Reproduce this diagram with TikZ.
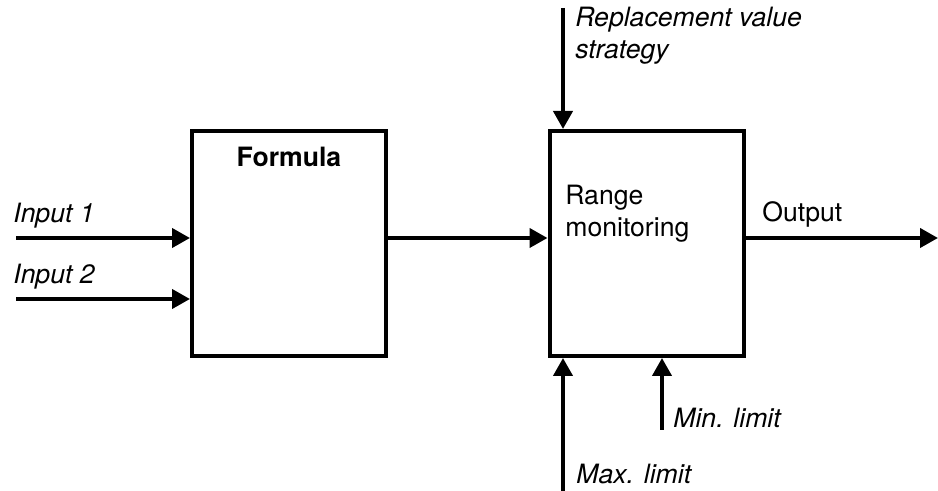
\documentclass[tikz,border=0pt]{standalone}
\usepackage{fontspec}
\setmainfont{TeX Gyre Heros}
\usetikzlibrary{arrows.meta, positioning}

\begin{document}
\begin{tikzpicture}[
  x=0.5pt, y=-0.5pt,
  >={Triangle[length=9pt, width=9.5pt]},
  block/.style={draw, line width=2pt, minimum width=97pt, minimum height=112.5pt, inner sep=0pt},
  arrow/.style={->, line width=2pt},
  txt/.style={font=\fontsize{13.3}{16}\selectfont, inner sep=0pt, align=left},
  sig/.style={font=\fontsize{13.3}{16}\selectfont\itshape, inner sep=0pt, align=left}
]

\useasboundingbox (0,0) rectangle (938,491);

% Blocks
\node[block] (formula) at (289,243.5) {};
\node[block] (range) at (646.5,243.5) {};
\node[txt, font=\fontsize{13.3}{16}\selectfont\bfseries, anchor=base] (formulatxt) at (289,167) {Formula};
\node[txt, anchor=base west] (rangetxt) at (565,237) {Range\\monitoring};

% Signal end points
\coordinate (in1) at (16,238);
\coordinate (in2) at (16,299);
\coordinate (out) at (938,238);
\coordinate (repl) at (563,8);
\coordinate (maxl) at (563,491);
\coordinate (minl) at (662,430);

% Arrows
\draw[arrow] (in1) -- (in1 -| formula.west);
\draw[arrow] (in2) -- (in2 -| formula.west);
\draw[arrow] (formula.east |- in1) -- (range.west |- in1);
\draw[arrow] (range.east |- out) -- (out);
\draw[arrow] (repl) -- (repl |- range.north);
\draw[arrow] (maxl) -- (maxl |- range.south);
\draw[arrow] (minl) -- (minl |- range.south);

% Labels
\node[sig, anchor=base west] (in1txt) at (13,223) {Input 1};
\node[sig, anchor=base west] (in2txt) at (13,284) {Input 2};
\node[txt, anchor=base west] (outtxt) at (762,222) {Output};
\node[sig, anchor=base west] (repltxt) at (575,59) {Replacement value\\strategy};
\node[sig, anchor=base west] (mintxt) at (673,428) {Min. limit};
\node[sig, anchor=base west] (maxtxt) at (576,484) {Max. limit};

\end{tikzpicture}
\end{document}
